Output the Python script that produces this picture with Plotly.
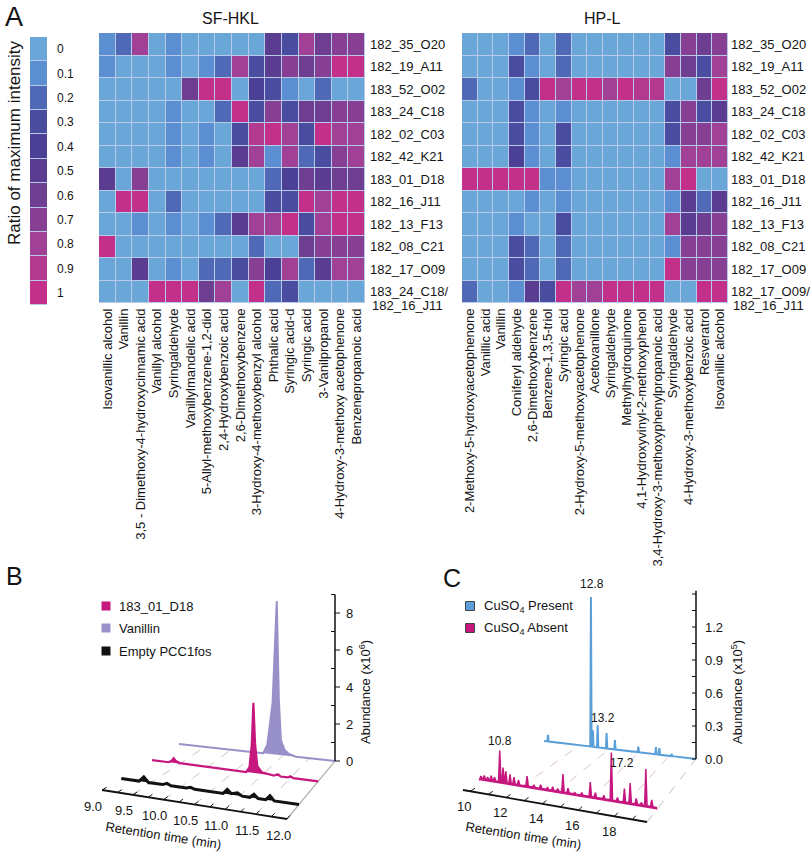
import plotly.graph_objects as go

W, H = 810, 853
FONT = "Liberation Sans, Arial, sans-serif"
TXT = "#141414"

# ---------------- Panel A data ----------------
scale_values = [0, 0.1, 0.2, 0.3, 0.4, 0.5, 0.6, 0.7, 0.8, 0.9, 1.0]
scale_labels = ["0", "0.1", "0.2", "0.3", "0.4", "0.5", "0.6", "0.7", "0.8", "0.9", "1"]
scale_colors = ["#6aa7d8", "#5b8fd1", "#5069b6", "#4a4c9f", "#4b3f96", "#5a3d90",
                "#6e3e91", "#873f94", "#a04195", "#b3398f", "#c2308a"]

sf_title = "SF-HKL"
sf_rows = ["182_35_O20", "182_19_A11", "183_52_O02", "183_24_C18", "182_02_C03", "182_42_K21",
           "183_01_D18", "182_16_J11", "182_13_F13", "182_08_C21", "182_17_O09",
           "183_24_C18/182_16_J11"]
sf_cols = ["Isovanillic alcohol", "Vanillin", "3,5 - Dimethoxy-4-hydroxycinnamic acid",
           "Vanillyl alcohol", "Syringaldehyde", "Vanillylmandelic acid",
           "5-Allyl-methoxybenzene-1,2-diol", "2,4-Hydroxybenzoic acid", "2,6-Dimethoxybenzene",
           "3-Hydroxy-4-methoxybenzyl alcohol", "Phthalic acid", "Syringic acid-d", "Syringic acid",
           "3-Vanilpropanol", "4-Hydroxy-3-methoxy acetophenone", "Benzenepropanoic acid"]
sf_vals = [
    [0.1, 0.2, 0.8, 0, 0.1, 0, 0, 0, 0, 0, 0.5, 0.3, 0.8, 0.6, 0.7, 0.7],
    [0.1, 0, 0, 0, 0.1, 0, 0.1, 0.2, 0.8, 0.3, 0.5, 0.7, 0.6, 0.7, 1, 1],
    [0, 0, 0, 0, 0, 0.6, 1, 1, 0, 0.4, 0.3, 0.1, 0, 0.2, 0, 0],
    [0, 0, 0, 0, 0.1, 0, 0, 0.2, 1, 0.3, 0.7, 0.3, 0.6, 0.6, 0.7, 0.7],
    [0, 0, 0, 0, 0.1, 0, 0.1, 0, 0.3, 0.9, 1, 0.8, 0.3, 1, 0.8, 0.8],
    [0, 0, 0, 0, 0.1, 0, 0.1, 0, 0.5, 0.8, 0.1, 0.8, 0.2, 0.3, 0.7, 0.8],
    [0.5, 0, 0.7, 0, 0, 0, 0, 0, 0, 0, 0.2, 0.4, 0.6, 0.5, 0.6, 0.6],
    [0, 1, 1, 0, 0.2, 0, 0, 0, 0, 0, 0.3, 0.3, 1, 0.8, 1, 1],
    [0, 0, 0.1, 0, 0.1, 0, 0.1, 0.2, 0.5, 0.8, 0.8, 1, 0.3, 0.8, 1, 1],
    [1, 0, 0, 0, 0, 0, 0, 0, 0, 0.2, 0, 0, 0.6, 0.7, 0.7, 0.7],
    [0, 0, 0.5, 0, 0.1, 0, 0.2, 0.2, 0.3, 0.7, 0.4, 0.8, 0.2, 0.5, 0.8, 0.8],
    [0, 0, 0, 1, 1, 1, 0.6, 0.8, 0, 1, 0.2, 0.3, 0, 0, 0, 0],
]

hp_title = "HP-L"
hp_rows = ["182_35_O20", "182_19_A11", "183_52_O02", "183_24_C18", "182_02_C03", "182_42_K21",
           "183_01_D18", "182_16_J11", "182_13_F13", "182_08_C21", "182_17_O09",
           "182_17_O09/182_16_J11"]
hp_cols = ["2-Methoxy-5-hydroxyacetophenone", "Vanillic acid", "Vanillin", "Coniferyl aldehyde",
           "2,6-Dimethoxybenzene", "Benzene-1,3,5-triol", "Syringic acid",
           "2-Hydroxy-5-methoxyacetophenone", "Acetovanillone", "Syringaldehyde",
           "Methylhydroquinone", "4,1-Hydroxyvinyl-2-methoxyphenol",
           "3,4-Hydroxy-3-methoxyphenylpropanoic acid", "Syringaldehyde",
           "4-Hydroxy-3-methoxybenzoic acid", "Resveratrol", "Isovanillic alcohol"]
hp_vals = [
    [0, 0, 0, 0.1, 0.2, 0, 0.2, 0, 0, 0, 0, 0, 0, 0.3, 0.7, 0.6, 0.7],
    [0, 0, 0, 0.3, 0.1, 0, 0.2, 0, 0, 0, 0, 0, 0, 0.7, 0.6, 0.3, 0.8],
    [0.2, 0, 0, 0.1, 0.3, 1, 0.8, 1, 1, 0.8, 1, 0.9, 0.9, 0, 0, 0.6, 1],
    [0, 0, 0, 0.3, 0.1, 0, 0.1, 0, 0, 0, 0, 0, 0, 0.3, 0.7, 0.3, 0.5],
    [0, 0, 0, 0.3, 0.1, 0, 0.3, 0, 0, 0, 0, 0, 0, 0.3, 0.7, 0.7, 0.8],
    [0, 0, 0, 0.4, 0.1, 0, 0.3, 0, 0, 0, 0, 0, 0, 0.1, 0.8, 0.8, 0.8],
    [1, 1, 1, 1, 1, 0.1, 0.1, 0, 0, 0, 0, 0, 0, 0.8, 1, 0, 0],
    [0, 0, 0, 0, 0.1, 0, 0.1, 0, 0, 0, 0, 0, 0, 0.1, 0.5, 0.2, 0.5],
    [0, 0, 0, 0.1, 0, 0, 0.3, 0, 0, 0, 0, 0, 0, 0.8, 0.5, 0.6, 0.7],
    [0, 0, 0, 0.3, 0.2, 0, 0.2, 0, 0, 0, 0, 0, 0, 0.1, 0.7, 0.7, 0.7],
    [0, 0, 0, 0.3, 0.2, 0, 0.2, 0, 0, 0, 0, 0, 0, 1, 0.7, 0.7, 0.7],
    [0.2, 0, 0, 0.1, 0.5, 0.3, 1, 0.8, 0.8, 1, 1, 1, 1, 0, 0, 1, 1],
]

# ---------------- Panel B data (retention time min, abundance x10^6) ----------------
b_names = ["183_01_D18", "Vanillin", "Empty PCC1fos"]
b_colors = ["#c6177f", "#9890c8", "#111111"]
b_van_t = [9.0, 10.62, 10.7, 10.8, 10.88, 10.92, 10.96, 11.03, 11.12, 11.25, 12.0]
b_van_a = [0, 0, 0.5, 2.8, 8.3, 3.0, 0.8, 0.3, 0.1, 0, 0]
b_d18_t = [9.0, 9.3, 9.36, 9.39, 9.43, 9.5, 10.7, 10.76, 10.8, 10.83, 10.86, 10.9, 10.98,
           11.2, 11.25, 11.28, 11.32, 11.45, 11.5, 11.55, 12.0]
b_d18_a = [0, 0, 0.12, 0.25, 0.12, 0.03, 0, 0.3, 1.5, 3.8, 1.6, 0.4, 0.1,
           0, 0.08, 0.1, 0, 0, 0.08, 0, 0]
b_emp_t = [9.0, 9.3, 9.38, 9.46, 9.7, 9.77, 9.84, 10.1, 10.17, 10.24, 10.72, 10.79, 10.86,
           10.96, 11.04, 11.17, 11.24, 11.31, 11.44, 11.51, 11.58, 12.0]
b_emp_a = [0, 0, 0.27, 0, 0, 0.1, 0, 0, 0.07, 0, 0, 0.25, 0.05,
           0.15, 0, 0, 0.2, 0, 0, 0.25, 0, 0]
b_time_ticks = [9.0, 9.5, 10.0, 10.5, 11.0, 11.5, 12.0]
b_abund_ticks = [0, 2, 4, 6, 8]

# ---------------- Panel C data (retention time min, abundance x10^5) ----------------
c_names = ["CuSO<sub>4</sub> Present", "CuSO<sub>4</sub> Absent"]
c_colors = ["#5a9fd8", "#c6177f"]
c_pres_peak_t = [9.87, 12.75, 12.88, 13.2, 13.8, 14.36, 15.93, 17.11, 17.34, 18.17]
c_pres_peak_a = [0.06, 1.36, 0.15, 0.2, 0.14, 0.085, 0.05, 0.065, 0.06, 0.02]
c_abs_peak_t = [9.70, 9.89, 10.09, 10.29, 10.48, 10.78, 10.97, 11.13, 11.37, 11.60, 11.86, 12.35,
                12.74, 13.13, 13.52, 13.82, 14.11, 14.41, 14.70, 15.09, 15.49, 15.98, 16.27, 16.76,
                17.19, 17.54, 17.94, 18.27, 18.62, 18.92, 19.17, 19.51, 19.70]
c_abs_peak_a = [0.04, 0.05, 0.04, 0.06, 0.05, 0.30, 0.15, 0.12, 0.10, 0.08, 0.06, 0.11,
                0.04, 0.05, 0.04, 0.05, 0.04, 0.18, 0.06, 0.03, 0.04, 0.15, 0.06, 0.05,
                0.45, 0.05, 0.14, 0.20, 0.07, 0.04, 0.35, 0.08, 0.02]
c_peak_labels = [("12.8", 12.75, 1.36, 1.0), ("13.2", 13.2, 0.2, 1.0),
                 ("10.8", 10.78, 0.30, 0.2), ("17.2", 17.19, 0.45, 0.2)]
c_time_ticks = [10, 12, 14, 16, 18]
c_abund_ticks = [0.0, 0.3, 0.6, 0.9, 1.2]


def dx(px):
    return px / W


def dy(py):
    return 1 - py / H


def proj_factory(p0s, p0e, p1s, p1e, trange, k):
    t0, t1 = trange

    def proj(t, a, d):
        xs = p0s[0] + d * (p1s[0] - p0s[0]); ys = p0s[1] + d * (p1s[1] - p0s[1])
        xe = p0e[0] + d * (p1e[0] - p0e[0]); ye = p0e[1] + d * (p1e[1] - p0e[1])
        f = (t - t0) / (t1 - t0)
        return xs + f * (xe - xs), ys + f * (ye - ys) - a * k
    return proj


def path(proj, ts, vals, d):
    X, Y = [], []
    for t, a in zip(ts, vals):
        x, y = proj(t, a, d)
        X.append(x); Y.append(y)
    return X, Y


def spikes(peak_t, peak_a, t0, t1, w, base):
    ts, vs = [t0], [0]
    for t, a in zip(peak_t, peak_a):
        ts += [t - w, t, t + w]
        vs += [base, a, base]
    ts.append(t1); vs.append(0)
    return ts, vs


fig = go.Figure()

# discrete colorscale
cs = []
n = len(scale_colors)
for i, c in enumerate(scale_colors):
    cs.append([i / n, c]); cs.append([(i + 1) / n, c])

fig.add_trace(go.Heatmap(z=sf_vals, x=list(range(len(sf_cols))), y=list(range(len(sf_rows))),
                         colorscale=cs, zmin=-0.05, zmax=1.05, showscale=False, xgap=1, ygap=1,
                         xaxis="x", yaxis="y", hoverinfo="skip"))
fig.add_trace(go.Heatmap(z=hp_vals, x=list(range(len(hp_cols))), y=list(range(len(hp_rows))),
                         colorscale=cs, zmin=-0.05, zmax=1.05, showscale=False, xgap=1, ygap=1,
                         xaxis="x2", yaxis="y2", hoverinfo="skip"))
fig.add_trace(go.Heatmap(z=[[v] for v in scale_values], x=[0], y=list(range(n)),
                         colorscale=cs, zmin=-0.05, zmax=1.05, showscale=False, ygap=1,
                         xaxis="x3", yaxis="y3", hoverinfo="skip"))

# ---------------- Panel B ----------------
projB = proj_factory((102, 790), (287, 819), (179, 744), (335, 761), (9.0, 12.0), 18.5)
CV = dict(xaxis="x4", yaxis="y4", hoverinfo="skip", showlegend=False)

for t in [9.5, 10.0, 10.5, 11.0, 11.5]:
    X, Y = path(projB, [t, t], [0, 0], 0)
    X2, Y2 = path(projB, [t, t], [0, 0], 1)
    fig.add_trace(go.Scatter(x=[X[0], X2[0]], y=[Y[0], Y2[0]], mode="lines",
                             line=dict(color="#c4c4c4", width=1, dash="dash"), **CV))
x0, y0 = projB(12.0, 0, 0); x1, y1 = projB(12.0, 0, 1)
fig.add_trace(go.Scatter(x=[x0, x1], y=[y0, y1], mode="lines", line=dict(color="#b0b0b0", width=1.2), **CV))

X, Y = path(projB, b_van_t, b_van_a, 1.0)
fig.add_trace(go.Scatter(x=X, y=Y, mode="lines", fill="toself", fillcolor=b_colors[1],
                         line=dict(color=b_colors[1], width=2), **CV))
X, Y = path(projB, b_d18_t, b_d18_a, 0.65)
fig.add_trace(go.Scatter(x=X, y=Y, mode="lines", fill="toself", fillcolor=b_colors[0],
                         line=dict(color=b_colors[0], width=2.2), **CV))
X, Y = path(projB, b_emp_t, b_emp_a, 0.25)
fig.add_trace(go.Scatter(x=X, y=Y, mode="lines", fill="toself", fillcolor=b_colors[2],
                         line=dict(color=b_colors[2], width=3), **CV))

# time axis B
x0, y0 = projB(9.0, 0, 0); x1, y1 = projB(12.0, 0, 0)
fig.add_trace(go.Scatter(x=[x0, x1], y=[y0, y1], mode="lines", line=dict(color="#111", width=1.8), **CV))
tx, ty = [], []
t = 9.0
while t <= 12.0001:
    a0 = projB(t, 0, 0); a1 = projB(t, 0, 0.06)
    tx += [a0[0], a1[0], None]; ty += [a0[1], a1[1], None]
    t += 0.25
fig.add_trace(go.Scatter(x=tx, y=ty, mode="lines", line=dict(color="#111", width=1), **CV))
# abundance axis B
x0, y0 = projB(12.0, 0, 1); x1, y1 = projB(12.0, 9, 1)
fig.add_trace(go.Scatter(x=[x0, x1], y=[y0, y1], mode="lines", line=dict(color="#111", width=1.5), **CV))
tx, ty = [], []
for v in range(0, 10):
    px, py = projB(12.0, v, 1)
    if v % 2 == 0:
        tx += [px, px + 5, None]
    else:
        tx += [px - 4, px, None]
    ty += [py, py, None]
fig.add_trace(go.Scatter(x=tx, y=ty, mode="lines", line=dict(color="#111", width=1), **CV))

# ---------------- Panel C ----------------
projC = proj_factory((463, 790), (647, 822), (544, 741), (696, 759), (9.6, 19.8), 110)
for t in [12, 14, 16, 18]:
    a0 = projC(t, 0, 0.2); a1 = projC(t, 0, 1)
    fig.add_trace(go.Scatter(x=[a0[0], a1[0]], y=[a0[1], a1[1]], mode="lines",
                             line=dict(color="#dcc0cf", width=1, dash="dash"), **CV))
a0 = projC(19.8, 0, 0); a1 = projC(19.8, 0, 1)
fig.add_trace(go.Scatter(x=[a0[0], a1[0]], y=[a0[1], a1[1]], mode="lines",
                         line=dict(color="#c0c0c0", width=1, dash="dash"), **CV))

ts, vs = spikes(c_pres_peak_t, c_pres_peak_a, 9.6, 19.8, 0.045, 0.0)
X, Y = path(projC, ts, vs, 1.0)
fig.add_trace(go.Scatter(x=X, y=Y, mode="lines", fill="toself", fillcolor=c_colors[0],
                         line=dict(color=c_colors[0], width=2), **CV))
ts, vs = spikes(c_abs_peak_t, c_abs_peak_a, 9.6, 19.8, 0.07, 0.018)
X, Y = path(projC, ts, vs, 0.2)
fig.add_trace(go.Scatter(x=X, y=Y, mode="lines", fill="toself", fillcolor=c_colors[1],
                         line=dict(color=c_colors[1], width=1.5), **CV))

x0, y0 = projC(9.6, 0, 0); x1, y1 = projC(19.8, 0, 0)
fig.add_trace(go.Scatter(x=[x0, x1], y=[y0, y1], mode="lines", line=dict(color="#111", width=1.8), **CV))
tx, ty = [], []
for t in range(10, 20):
    a0 = projC(t, 0, 0); a1 = projC(t, 0, 0.06)
    tx += [a0[0], a1[0], None]; ty += [a0[1], a1[1], None]
fig.add_trace(go.Scatter(x=tx, y=ty, mode="lines", line=dict(color="#111", width=1), **CV))
x0, y0 = projC(19.8, 0, 1); x1, y1 = projC(19.8, 1.53, 1)
fig.add_trace(go.Scatter(x=[x0, x1], y=[y0, y1], mode="lines", line=dict(color="#111", width=1.5), **CV))
tx, ty = [], []
for i in range(11):
    px, py = projC(19.8, i * 0.15, 1)
    tx += [px - 4, px, None]; ty += [py, py, None]
fig.add_trace(go.Scatter(x=tx, y=ty, mode="lines", line=dict(color="#111", width=1), **CV))

# legends (manual)
fig.add_trace(go.Scatter(x=[106, 106, 106], y=[606, 628, 651], mode="markers",
                         marker=dict(symbol="square", size=9, color=b_colors, line=dict(width=0)), **CV))
fig.add_trace(go.Scatter(x=[470, 470], y=[606, 628], mode="markers",
                         marker=dict(symbol="square", size=9, color=c_colors,
                                     line=dict(width=1, color="#444")), **CV))

ann = []


def A(x, y, text, size=13, xanchor="center", yanchor="middle", angle=0, **kw):
    d = dict(x=x, y=y, xref="x4", yref="y4", text=text, showarrow=False, xanchor=xanchor,
             yanchor=yanchor, textangle=angle, font=dict(size=size, color=TXT, family=FONT))
    d.update(kw)
    ann.append(d)


# Panel A texts
A(3, 17, "A", size=27, xanchor="left")
A(230, 18, sf_title, size=16)
A(602, 18, hp_title, size=16)
A(14, 143, "Ratio of maximum intensity", size=17, angle=-90)
A(370, 305, sf_rows[-1].split("/")[1], xanchor="left")
A(731, 305, hp_rows[-1].split("/")[1], xanchor="left")

# Panel B texts
A(4, 576, "B", size=25, xanchor="left")
for i, nm in enumerate(b_names):
    A(117, [606, 628, 651][i], nm, xanchor="left")
for t in b_time_ticks:
    px, py = projB(t, 0, 0)
    A(px - 9, py + 16, f"{t:.1f}")
for v in b_abund_ticks:
    px, py = projB(12.0, v, 1)
    A(px + 9, py, str(v), xanchor="left")
A(163, 835, "Retention time (min)", angle=9)
A(365, 692, "Abundance (x10<sup>6</sup>)", angle=-90)

# Panel C texts
A(441, 578, "C", size=25, xanchor="left")
for i, nm in enumerate(c_names):
    A(482, [606, 628][i], nm, xanchor="left")
for t in c_time_ticks:
    px, py = projC(t, 0, 0)
    A(px - 6, py + 15, str(t))
for v in c_abund_ticks:
    px, py = projC(19.8, v, 1)
    A(px + 7, py, f"{v:.1f}", xanchor="left")
A(523, 835, "Retention time (min)", angle=9)
A(737, 692, "Abundance (x10<sup>5</sup>)", angle=-90)
offs = {"12.8": (1, -4, "center", "bottom"), "13.2": (5, -7, "center", "middle"),
        "10.8": (0, -1, "center", "bottom"), "17.2": (11, 11, "center", "middle")}
for lab, t, a, d in c_peak_labels:
    px, py = projC(t, a, d)
    ox, oy, xa, ya = offs[lab]
    A(px + ox, py + oy, lab, size=12, xanchor=xa, yanchor=ya)

noax = dict(showgrid=False, zeroline=False, showline=False, ticks="")
tf = dict(size=13, color=TXT, family=FONT)

fig.update_layout(
    width=W, height=H, margin=dict(l=0, r=0, t=0, b=0),
    paper_bgcolor="white", plot_bgcolor="rgba(0,0,0,0)",
    font=dict(family=FONT, color=TXT),
    showlegend=False,
    xaxis=dict(domain=[dx(99), dx(365)], anchor="y", range=[-0.5, len(sf_cols) - 0.5],
               tickmode="array", tickvals=list(range(len(sf_cols))), ticktext=sf_cols,
               tickangle=-90, tickfont=tf, ticklabelstandoff=2, fixedrange=True, **noax),
    yaxis=dict(domain=[dy(303), dy(33)], anchor="x", range=[len(sf_rows) - 0.5, -0.5],
               side="right", tickmode="array", tickvals=list(range(len(sf_rows))),
               ticktext=[r.split("/")[0] + ("/" if "/" in r else "") for r in sf_rows],
               tickfont=tf, ticklabelstandoff=4, fixedrange=True, **noax),
    xaxis2=dict(domain=[dx(462), dx(728)], anchor="y2", range=[-0.5, len(hp_cols) - 0.5],
                tickmode="array", tickvals=list(range(len(hp_cols))), ticktext=hp_cols,
                tickangle=-90, tickfont=tf, ticklabelstandoff=2, fixedrange=True, **noax),
    yaxis2=dict(domain=[dy(303), dy(33)], anchor="x2", range=[len(hp_rows) - 0.5, -0.5],
                side="right", tickmode="array", tickvals=list(range(len(hp_rows))),
                ticktext=[r.split("/")[0] + ("/" if "/" in r else "") for r in hp_rows],
                tickfont=tf, ticklabelstandoff=2, fixedrange=True, **noax),
    xaxis3=dict(domain=[dx(30), dx(47)], anchor="y3", range=[-0.5, 0.5], showticklabels=False,
                fixedrange=True, **noax),
    yaxis3=dict(domain=[dy(305), dy(37)], anchor="x3", range=[n - 0.5, -0.5], side="right",
                tickmode="array", tickvals=list(range(n)), ticktext=scale_labels,
                tickfont=dict(size=12, color=TXT, family=FONT), ticklabelstandoff=9,
                fixedrange=True, **noax),
    xaxis4=dict(domain=[0, 1], anchor="y4", range=[0, W], visible=False, fixedrange=True),
    yaxis4=dict(domain=[0, 1], anchor="x4", range=[H, 0], visible=False, fixedrange=True),
    annotations=ann,
    shapes=[
        dict(type="rect", xref="x domain", yref="y domain", x0=0, x1=1, y0=0, y1=1,
             fillcolor="#b7cbe8", line_width=0, layer="below"),
        dict(type="rect", xref="x2 domain", yref="y2 domain", x0=0, x1=1, y0=0, y1=1,
             fillcolor="#b7cbe8", line_width=0, layer="below"),
        dict(type="rect", xref="x3 domain", yref="y3 domain", x0=0, x1=1, y0=0, y1=1,
             fillcolor="#b7cbe8", line_width=0, layer="below"),
    ],
)

fig.write_html("out.html", config={"displayModeBar": False},
               post_script="document.body.style.margin='0';document.body.style.overflow='hidden';")
